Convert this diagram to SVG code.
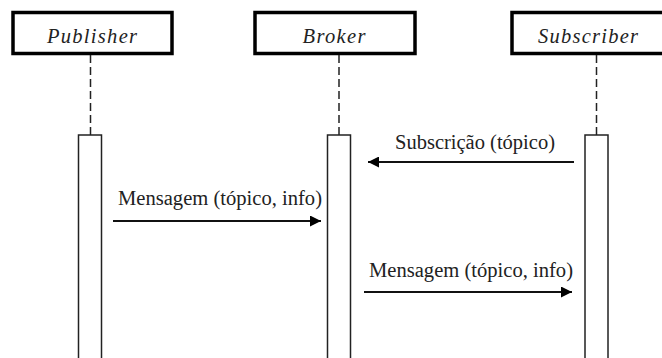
<svg xmlns="http://www.w3.org/2000/svg" width="662" height="358" viewBox="0 0 662 358">
  <style>
    .head { fill: #fff; stroke: #000; stroke-width: 3.5; }
    .head-label { font-family: "Liberation Serif", "Times New Roman", serif; font-style: italic; font-size: 20.5px; fill: #222; text-anchor: middle; }
    .life { stroke: #222; stroke-width: 1.5; stroke-dasharray: 8 4; fill: none; }
    .act { fill: #fff; stroke: #222; stroke-width: 1.5; }
    .msg { stroke: #111; stroke-width: 1.8; fill: none; marker-end: url(#arrow); }
    .msg-label { font-family: "Liberation Serif", "Times New Roman", serif; font-size: 20.5px; fill: #222; }
  </style>
  <defs>
    <marker id="arrow" viewBox="0 0 10 10" refX="10" refY="5" markerWidth="16" markerHeight="11" markerUnits="userSpaceOnUse" orient="auto">
      <path d="M0,0 L10,5 L0,10 z" fill="#000"/>
    </marker>
  </defs>
  <rect width="662" height="358" fill="#fff"/>

  <g id="publisher">
    <rect class="head" x="13" y="12.5" width="159" height="41"/>
    <text class="head-label" x="92" y="43" textLength="90" lengthAdjust="spacing">Publisher</text>
    <line class="life" x1="90.5" y1="55" x2="90.5" y2="135"/>
    <rect class="act" x="78.5" y="135" width="23" height="230"/>
  </g>

  <g id="broker">
    <rect class="head" x="255" y="12.5" width="160" height="41"/>
    <text class="head-label" x="334" y="43" textLength="63" lengthAdjust="spacing">Broker</text>
    <line class="life" x1="339" y1="55" x2="339" y2="135"/>
    <rect class="act" x="327.5" y="135" width="23" height="230"/>
  </g>

  <g id="subscriber">
    <rect class="head" x="512" y="12.5" width="160" height="41"/>
    <text class="head-label" x="588" y="43" textLength="100" lengthAdjust="spacing">Subscriber</text>
    <line class="life" x1="596.5" y1="55" x2="596.5" y2="135"/>
    <rect class="act" x="585" y="135" width="23" height="230"/>
  </g>

  <g id="connectors">
    <line class="msg" x1="574" y1="162" x2="368" y2="162"/>
    <text class="msg-label" x="395" y="149" textLength="160" lengthAdjust="spacingAndGlyphs">Subscrição (tópico)</text>

    <line class="msg" x1="113" y1="221" x2="321" y2="221"/>
    <text class="msg-label" x="118" y="205" textLength="204" lengthAdjust="spacingAndGlyphs">Mensagem (tópico, info)</text>

    <line class="msg" x1="364" y1="292" x2="572" y2="292"/>
    <text class="msg-label" x="369" y="277" textLength="204" lengthAdjust="spacingAndGlyphs">Mensagem (tópico, info)</text>
  </g>
</svg>
